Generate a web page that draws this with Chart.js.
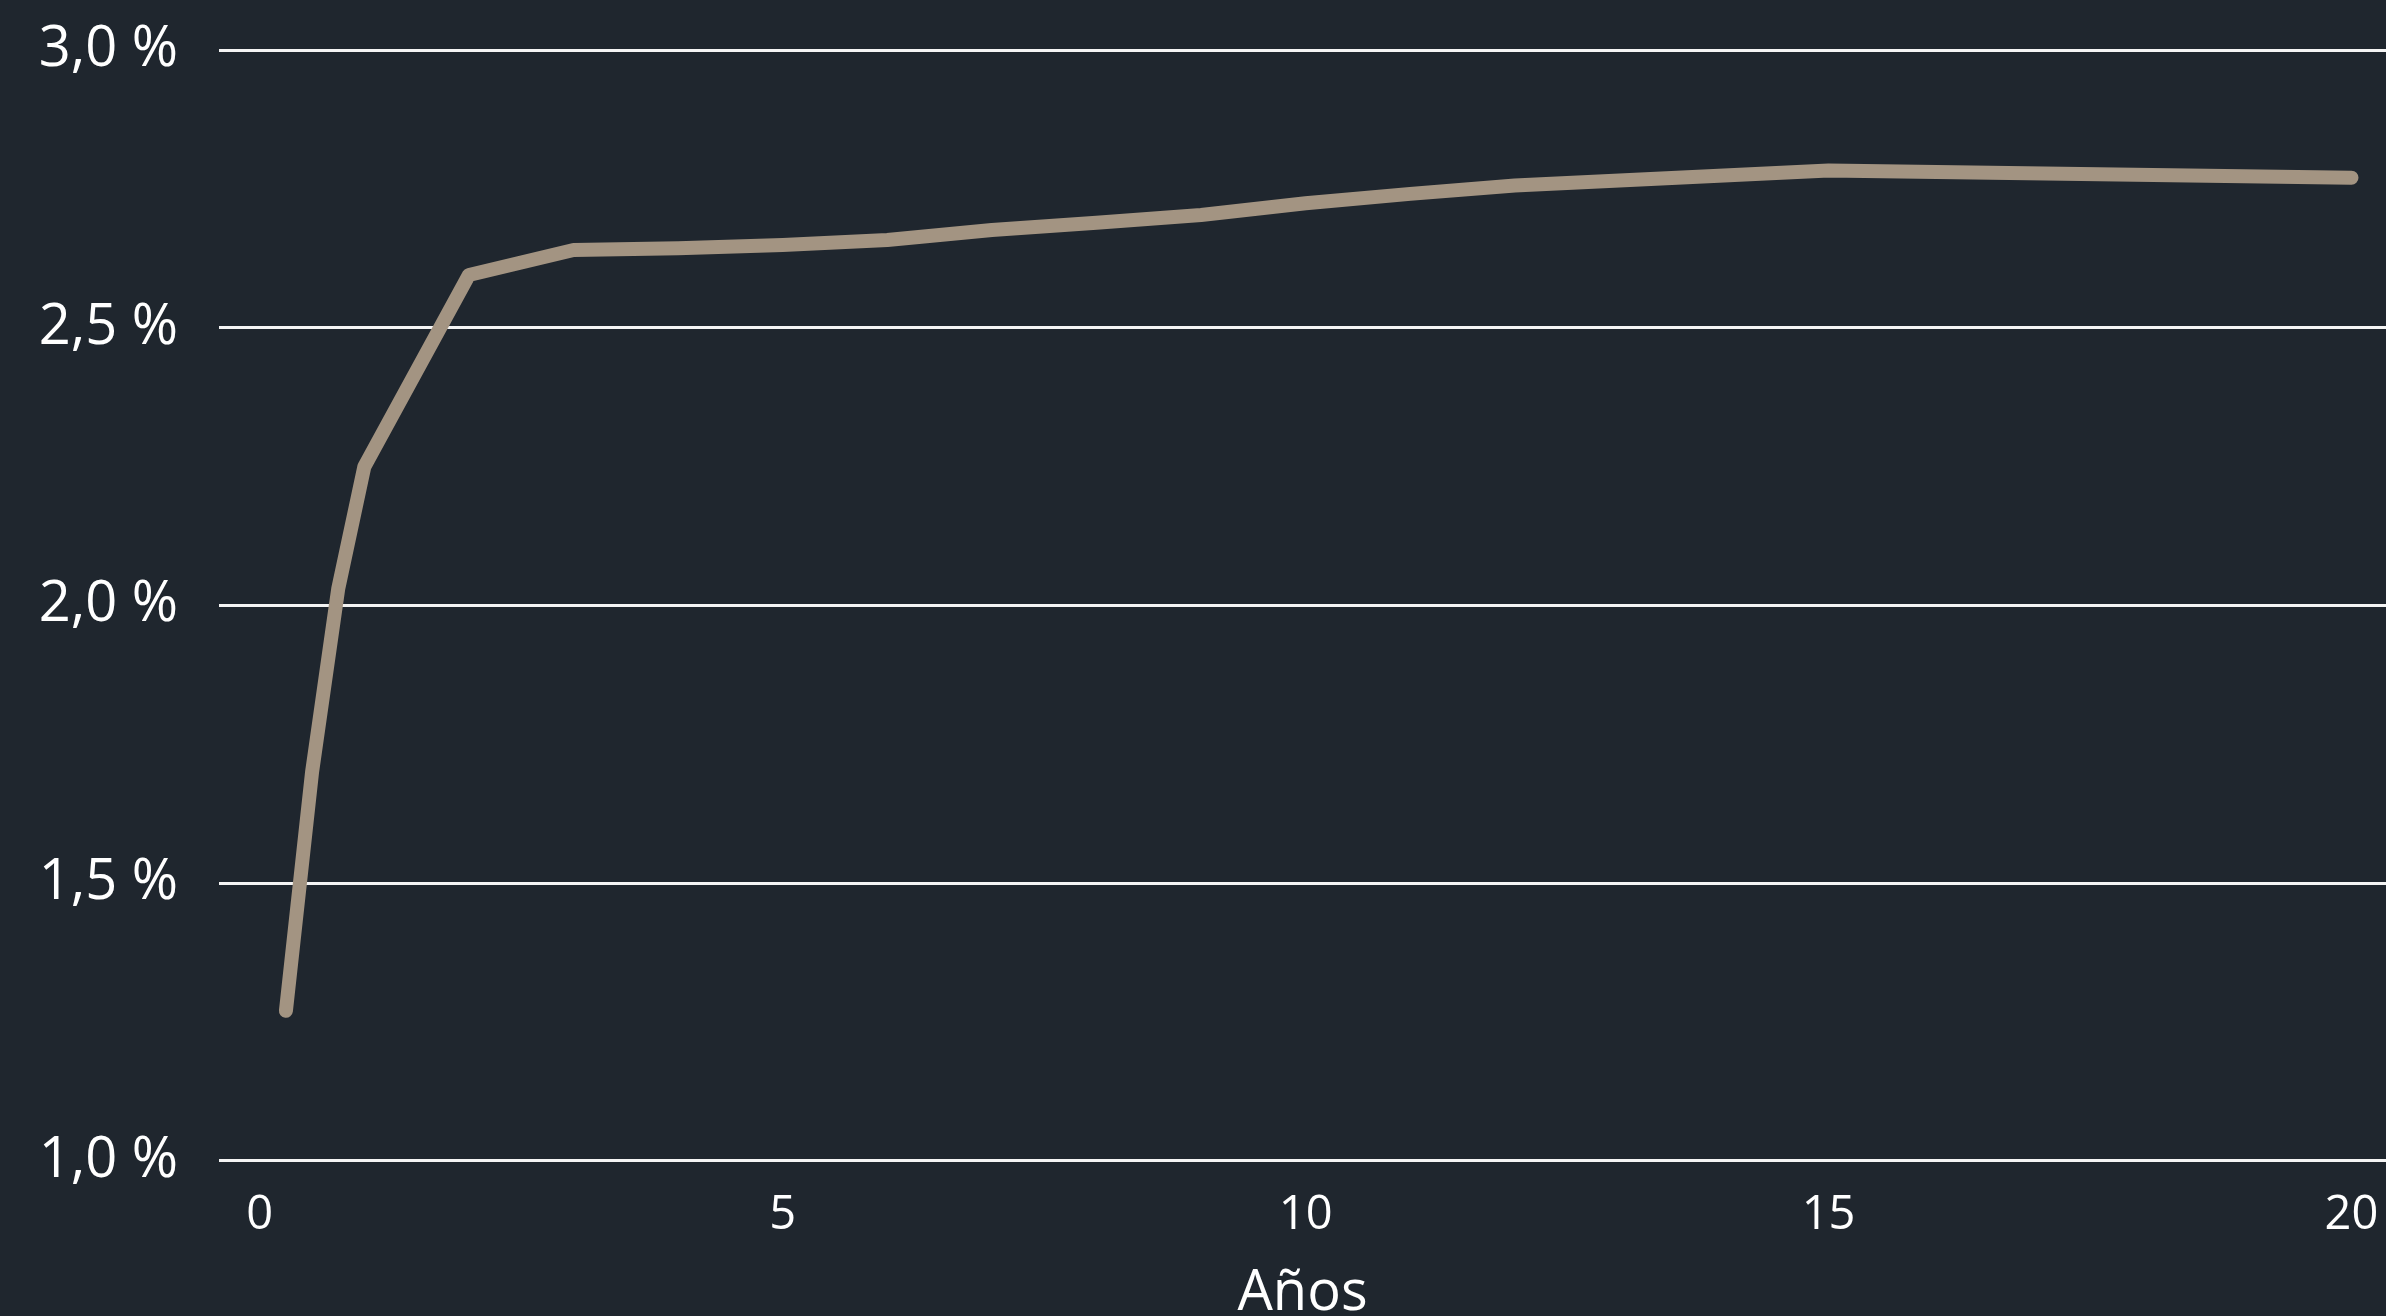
<!DOCTYPE html>
<html lang="es">
<head>
<meta charset="utf-8">
<title>Curva de tipos</title>
<script src="https://cdn.jsdelivr.net/npm/chart.js@4.4.1/dist/chart.umd.min.js"></script>
<style>
  html, body { margin: 0; padding: 0; background: #1f262e; }
  #wrap { position: relative; width: 2386px; height: 1316px; }
</style>
</head>
<body>
<div id="wrap"><canvas id="curve"></canvas></div>
<script>
// plazos en años y tipo (%)
const years = [0.25, 0.5, 0.75, 1, 2, 3, 4, 5, 6, 7, 8, 9, 10, 11, 12, 15, 20];
const rates = [1.27, 1.70, 2.03, 2.25, 2.595, 2.64, 2.643, 2.649, 2.658, 2.676, 2.689, 2.703, 2.724, 2.741, 2.756, 2.783, 2.770];
const xTicks = [0, 5, 10, 15, 20];
const yTicks = [1.0, 1.5, 2.0, 2.5, 3.0];
const xTitle = 'Años';

const fontFamily = '"Open Sans", "Noto Sans", sans-serif';

new Chart(document.getElementById('curve'), {
  type: 'line',
  data: {
    datasets: [{
      data: years.map((x, i) => ({ x: x, y: rates[i] })),
      borderColor: '#a39482',
      borderWidth: 14,
      borderCapStyle: 'round',
      borderJoinStyle: 'round',
      pointRadius: 0,
      tension: 0,
      clip: false
    }]
  },
  options: {
    responsive: true,
    maintainAspectRatio: false,
    animation: false,
    layout: { padding: { top: 50, right: 0, bottom: 0, left: 0 } },
    plugins: { legend: { display: false }, tooltip: { enabled: false } },
    scales: {
      x: {
        type: 'linear',
        min: -0.39,
        max: 20.33,
        afterBuildTicks: (scale) => { scale.ticks = xTicks.map((v) => ({ value: v })); },
        afterFit: (scale) => { scale.paddingLeft = 0; scale.paddingRight = 0; },
        grid: { display: false, drawTicks: false },
        border: { display: false },
        ticks: {
          color: '#ffffff',
          padding: 27,
          maxRotation: 0,
          font: { family: fontFamily, size: 47 },
          callback: (v) => String(v)
        },
        title: {
          display: true,
          text: xTitle,
          color: '#ffffff',
          padding: { top: 0, bottom: 0 },
          font: { family: fontFamily, size: 56, lineHeight: 0.8 }
        }
      },
      y: {
        min: 1,
        max: 3,
        afterBuildTicks: (scale) => { scale.ticks = yTicks.map((v) => ({ value: v })); },
        afterFit: (scale) => { scale.width = 219; scale.paddingTop = 0; scale.paddingBottom = 0; },
        grid: { color: '#f4f4f4', lineWidth: 3, drawTicks: false },
        border: { display: false },
        ticks: {
          color: '#ffffff',
          padding: 41,
          font: { family: fontFamily, size: 56 },
          callback: (v) => Number(v).toFixed(1).replace('.', ',') + ' %'
        }
      }
    }
  }
});
</script>
</body>
</html>
